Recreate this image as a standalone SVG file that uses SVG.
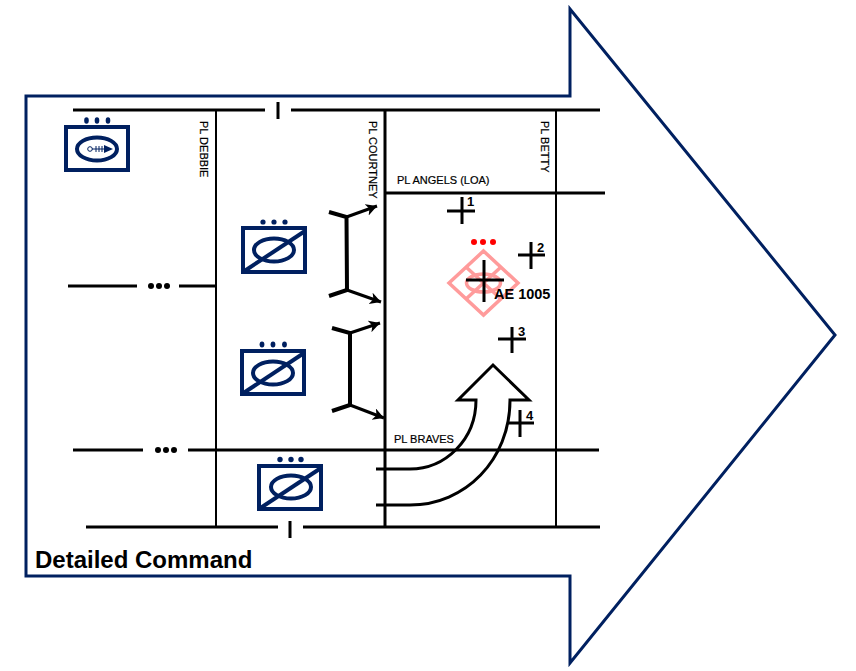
<svg xmlns="http://www.w3.org/2000/svg" width="856" height="671" viewBox="0 0 856 671">
<style>
text{font-family:"Liberation Sans",Arial,sans-serif;fill:#000}
.lbl{font-size:11px;stroke:#000;stroke-width:.2px}
.num{font-size:13px;font-weight:700}
.ln{stroke:#000;stroke-width:3;fill:none}
.thin{stroke:#000;stroke-width:2;fill:none}
.box{fill:#fff;stroke:#002060;stroke-width:4}
.ell{fill:none;stroke:#002060;stroke-width:4}
.dot{fill:#002060}
.rdot{fill:#f00}
.pink{fill:none;stroke:#ff9b9b;stroke-width:3.5}
.mv{stroke:#000;stroke-width:4;fill:none;stroke-linejoin:miter}
.cross{stroke:#000;stroke-width:3;fill:none}
</style>
<defs>
<marker id="ah" markerUnits="userSpaceOnUse" markerWidth="14" markerHeight="14" refX="11" refY="6" orient="auto">
<path d="M0 0L11 6L0 12L3 6Z" fill="#000"/>
</marker>
</defs>
<g id="frame"><path d="M26 96H570V9L835 335L570 663V576H26Z" fill="#fff" stroke="#002060" stroke-width="3"/></g>
<g id="connectors">
<path class="ln" d="M73 110H265M291 110H600M278 102V119"/>
<path class="ln" d="M86 527H278M303 527H600M290 521V538"/>
<path class="ln" d="M73 450H143M188 450H599"/>
<path class="ln" d="M68 286H137M179 286H216"/>
<path class="thin" d="M216 110V527M556 110V527"/>
<path class="ln" d="M385 110V527"/>
<path class="ln" d="M385 193H605"/>
<g fill="#000"><circle cx="151" cy="286" r="3"/><circle cx="159" cy="286" r="3"/><circle cx="167" cy="286" r="3"/><circle cx="158" cy="450" r="3"/><circle cx="166" cy="450" r="3"/><circle cx="174" cy="450" r="3"/></g>
<path class="mv" d="M329 212L346.500 217L347 290L329 296"/>
<path class="mv" d="M332 328L350 333L350 405L332 411"/>
<path class="ln" marker-end="url(#ah)" d="M346.500 217L377 206"/>
<path class="ln" marker-end="url(#ah)" d="M347 290L381 302"/>
<path class="ln" marker-end="url(#ah)" d="M350 333L380 323"/>
<path class="ln" marker-end="url(#ah)" d="M350 405L384 418"/>
<path class="ln" d="M376 469H410C445 469 476 440 476 400H458L493 365L529 400H510C510 460 465 505 410 505H376"/>
</g>
<g id="unit-top"><rect class="box" x="66" y="127" width="62" height="43"/><ellipse class="ell" cx="97" cy="149" rx="20" ry="11.500"/><circle cx="90" cy="149" r="2.300" fill="none" stroke="#002060" stroke-width="1"/><path d="M92 149H104M96 146V152M99 146V152M102 146V152" stroke="#002060" stroke-width="1" fill="none"/><path d="M104 145L113 149L104 153Z" class="dot"/><ellipse class="dot" cx="86.500" cy="120.500" rx="2.300" ry="3.200"/><ellipse class="dot" cx="97" cy="120.500" rx="2.300" ry="3.200"/><ellipse class="dot" cx="108" cy="120.500" rx="2.300" ry="3.200"/></g>
<g id="unit-a"><rect class="box" x="243" y="228" width="62" height="44"/><ellipse class="ell" cx="274" cy="250" rx="20" ry="11.500"/><path d="M243 272L305 231" stroke="#002060" stroke-width="4"/><circle class="dot" cx="263" cy="222" r="2.600"/><circle class="dot" cx="274" cy="222" r="2.600"/><circle class="dot" cx="285" cy="222" r="2.600"/></g>
<g id="unit-b"><rect class="box" x="242" y="351" width="62" height="43"/><ellipse class="ell" cx="273" cy="373" rx="20" ry="11.500"/><path d="M242 394L304 353" stroke="#002060" stroke-width="4"/><ellipse class="dot" cx="262" cy="344.500" rx="2.400" ry="3"/><ellipse class="dot" cx="273" cy="344.500" rx="2.400" ry="3"/><ellipse class="dot" cx="284.500" cy="344.500" rx="2.400" ry="3"/></g>
<g id="unit-c"><rect class="box" x="259" y="466" width="62" height="43"/><ellipse class="ell" cx="291" cy="487" rx="20" ry="11.500"/><path d="M259 509L321 468" stroke="#002060" stroke-width="4"/><circle class="dot" cx="280" cy="459.500" r="2.700"/><circle class="dot" cx="291" cy="459.500" r="2.700"/><circle class="dot" cx="301" cy="459.500" r="2.700"/></g>
<g id="enemy-ae"><path class="pink" d="M483.500 251L518 283L483.500 315L449 283Z"/><ellipse class="pink" cx="483.500" cy="283" rx="17" ry="9"/><path class="pink" d="M466 267L501 299M466 299L501 267"/><circle class="rdot" cx="474" cy="242" r="3"/><circle class="rdot" cx="483" cy="242" r="3"/><circle class="rdot" cx="493" cy="242" r="3"/><path class="cross" d="M466 280H504M484 260V302"/><text x="494" y="299" font-size="14.500" font-weight="700">AE 1005</text></g>
<g id="tgt-1"><path class="cross" d="M447 211H475M462 197V224"/><text class="num" x="467" y="206">1</text></g>
<g id="tgt-2"><path class="cross" d="M518 255H545M531 242V269"/><text class="num" x="537" y="252">2</text></g>
<g id="tgt-3"><path class="cross" d="M498 339H526M512 327V353"/><text class="num" x="518" y="336">3</text></g>
<g id="tgt-4"><path class="cross" d="M507 423H534M520 410V437"/><text class="num" x="526" y="420">4</text></g>
<g id="labels">
<text class="lbl" transform="translate(200 121) rotate(90)">PL DEBBIE</text>
<text class="lbl" transform="translate(369 121) rotate(90)">PL COURTNEY</text>
<text class="lbl" transform="translate(541 121) rotate(90)">PL BETTY</text>
<text class="lbl" x="397" y="184">PL ANGELS (LOA)</text>
<text class="lbl" x="394" y="443">PL BRAVES</text>
<text x="35" y="568" font-size="24" font-weight="700">Detailed Command</text>
</g>
</svg>
